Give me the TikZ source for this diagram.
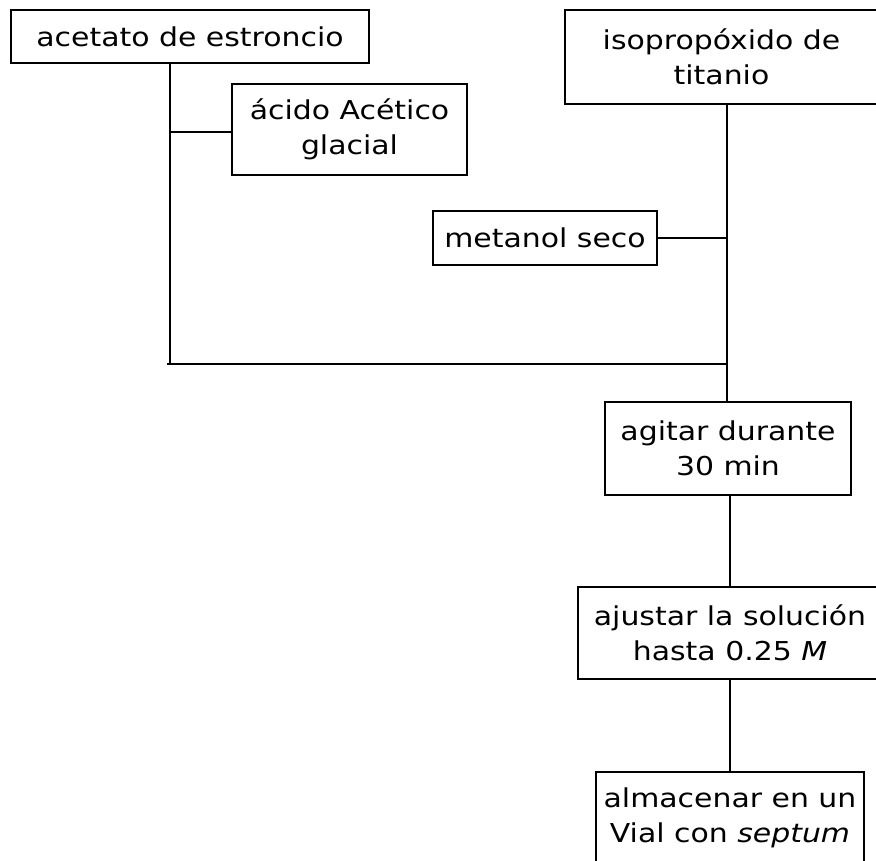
\documentclass[tikz,border=0pt]{standalone}
\usepackage{fontspec}
\setmainfont[FakeStretch=1.15]{DejaVu Sans}
\begin{document}
\begin{tikzpicture}[x=1pt,y=-1pt,
  box/.style={draw=black,line width=2pt,inner sep=0pt,align=center,font=\fontsize{26}{35}\selectfont,anchor=center},
  conn/.style={draw=black,line width=2.4pt}]
\useasboundingbox (0,0) rectangle (876,861);
\fill[white] (0,0) rectangle (876,861);
\node[box,minimum width=358pt,minimum height=53pt] (A) at (190,36.5) {acetato de estroncio};
\node[box,minimum width=235pt,minimum height=91pt] (B) at (349.5,129.5) {ácido Acético\\glacial};
\node[box,minimum width=313pt,minimum height=94pt] (C) at (721.5,57) {isopropóxido de\\titanio};
\node[box,minimum width=224pt,minimum height=54pt] (D) at (545,238) {metanol seco};
\node[box,minimum width=246pt,minimum height=93pt] (E) at (728,448.5) {agitar durante\\30 min};
\node[box,minimum width=304pt,minimum height=92pt] (F) at (730,633) {ajustar la solución\\hasta 0.25 \textit{M}};
\node[box,minimum width=268pt,minimum height=92pt] (G) at (730,818) {almacenar en un\\Vial con \textit{septum}};
\coordinate (j1) at (170,132);
\coordinate (j2) at (170,364);
\coordinate (j0) at (167,364);
\coordinate (j3) at (727,364);
\coordinate (j4) at (727,238);
\draw[conn] (A.south -| j1) -- (j2);
\draw[conn] (j1) -- (j1 -| B.west);
\draw[conn] (j0) -- (j3);
\draw[conn] (C.south -| j3) -- (E.north -| j3);
\draw[conn] (D.east) -- (j4);
\draw[conn] (F.north |- E.south) -- (F.north);
\draw[conn] (G.north |- F.south) -- (G.north);
\end{tikzpicture}
\end{document}
